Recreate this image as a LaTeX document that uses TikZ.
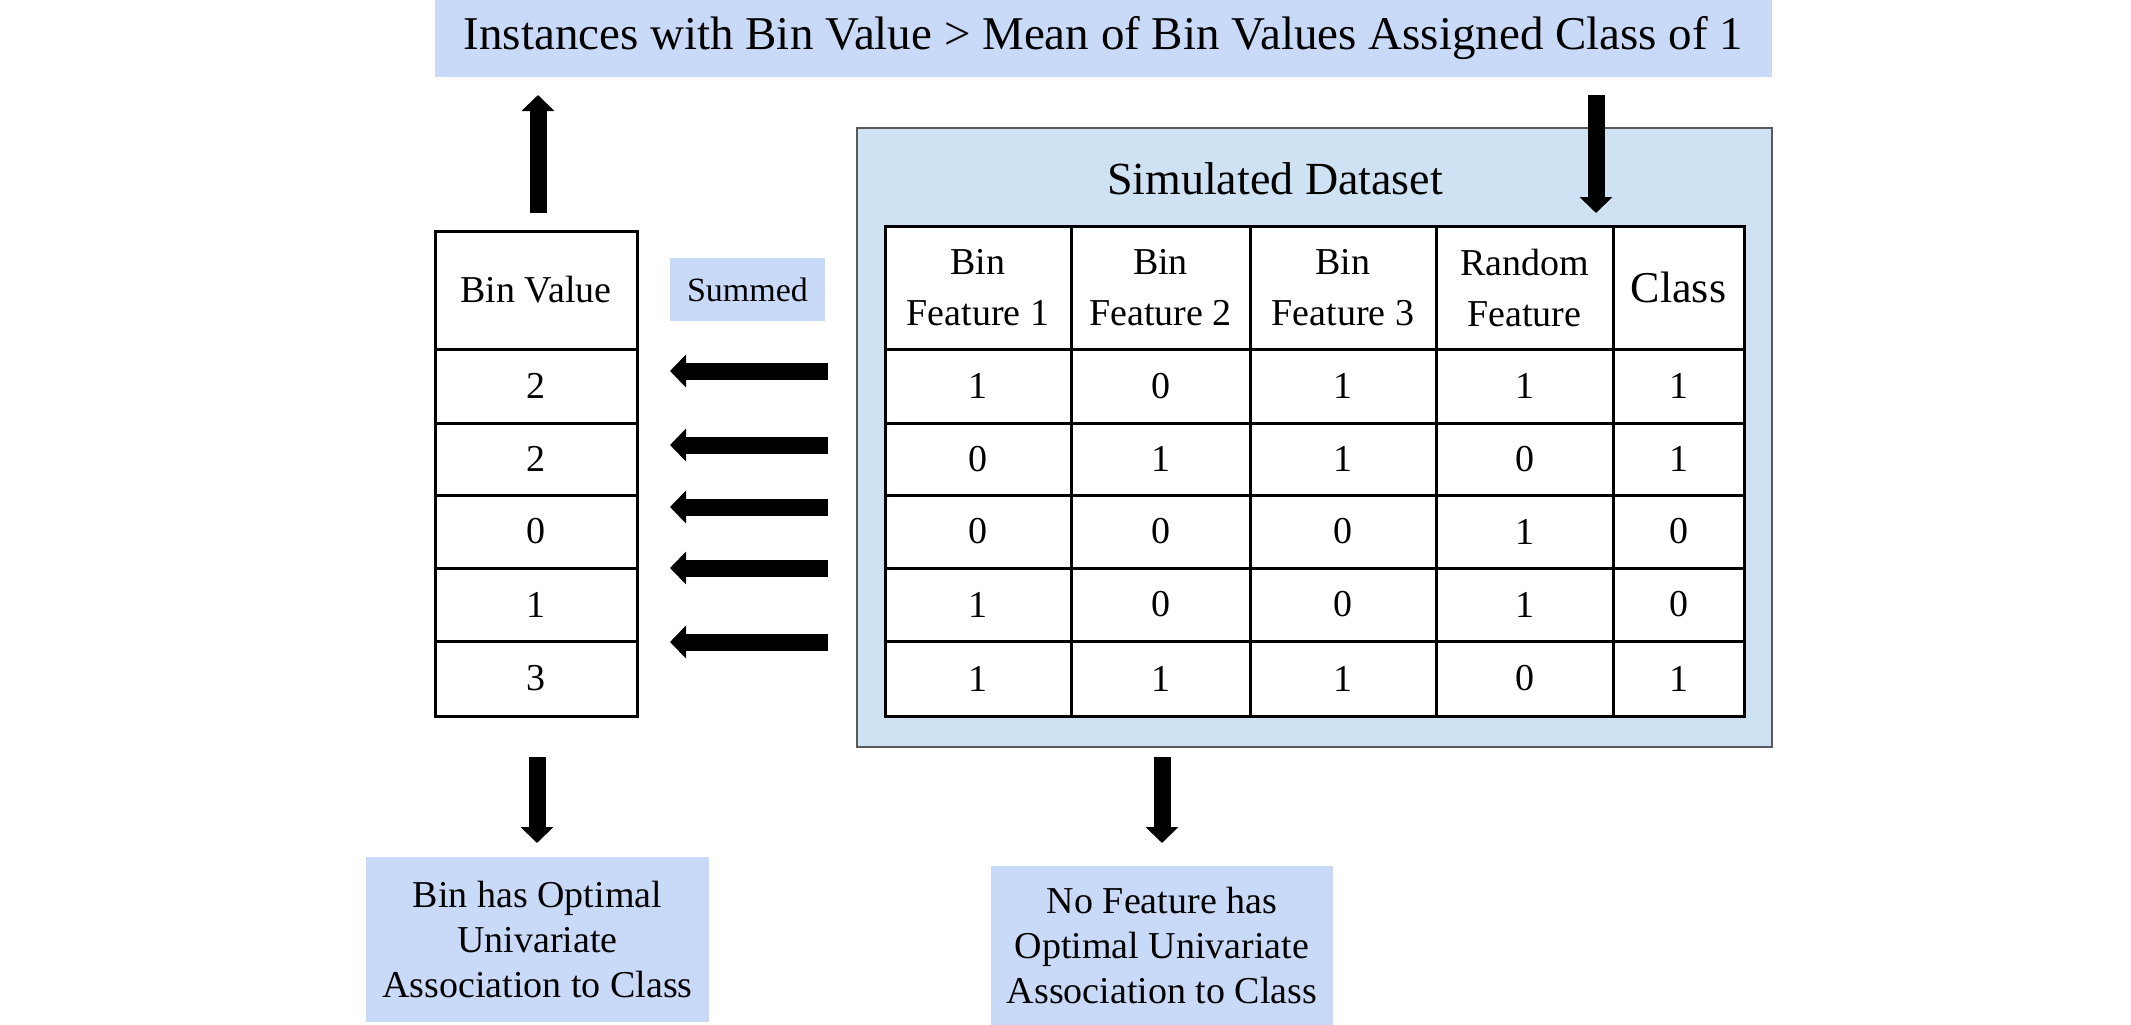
\documentclass[tikz,border=0pt]{standalone}
\usepackage{fontspec}
\setmainfont{Liberation Serif}
\usetikzlibrary{arrows.meta}
\definecolor{bannerblue}{HTML}{C9DAF8}
\definecolor{boxblue}{HTML}{CFE2F3}
\definecolor{boxedge}{HTML}{595959}
\tikzset{
  bluebox/.style={fill=bannerblue, draw=none, inner sep=0pt},
  cell/.style={draw=black, line width=3pt, inner sep=0pt, font=\fontsize{38}{51}\selectfont, align=center},
  bigarrow/.style={line width=17pt, -{Triangle[length=16pt,width=32pt]}},
}
\begin{document}
\begin{tikzpicture}[x=1pt,y=-1pt]
\useasboundingbox (0,0) rectangle (2131,1025);
% top banner
\node[bluebox, minimum width=1337pt, minimum height=77pt, font=\fontsize{47}{56}\selectfont] (banner) at (1103.5,38.5) {Instances with Bin Value > Mean of Bin Values Assigned Class of 1};
% simulated dataset box
\node[fill=boxblue, draw=boxedge, line width=2pt, minimum width=915pt, minimum height=619pt, inner sep=0pt] (dsbox) at (1314.5,437.5) {};
\node[font=\fontsize{46}{55}\selectfont, inner sep=0pt] (dstitle) at (1275,179) {Simulated Dataset};
% dataset table
\foreach \xa/\xb/\c in {885/1071/1,1071/1250/2,1250/1436/3,1436/1613/4,1613/1744/5}{
  \foreach \ya/\yb/\r in {226/349/0,349/423/1,423/495/2,495/568/3,568/641/4,641/716/5}{
    \node[cell, fill=white, minimum width={(\xb-\xa)*1pt}, minimum height={(\yb-\ya)*1pt}] (d-\r-\c) at ({(\xa+\xb)/2},{(\ya+\yb)/2}) {};
  }
}
\node[cell, draw=none] (h1) at (d-0-1) {Bin\\Feature 1};
\node[cell, draw=none] (h2) at (d-0-2) {Bin\\Feature 2};
\node[cell, draw=none] (h3) at (d-0-3) {Bin\\Feature 3};
\node[cell, draw=none] (h4) at (d-0-4) {Random\\Feature};
\node[cell, draw=none, font=\fontsize{44}{52}\selectfont] (h5) at (d-0-5) {Class};
\foreach \r/\vals in {1/{1,0,1,1,1},2/{0,1,1,0,1},3/{0,0,0,1,0},4/{1,0,0,1,0},5/{1,1,1,0,1}}{
  \foreach \v [count=\c] in \vals {
    \node[cell, draw=none] (t-\r-\c) at (d-\r-\c) {\v};
  }
}
% bin value table
\foreach \ya/\yb/\r/\v in {231/349/0/{Bin Value},349/423/1/2,423/495/2/2,495/568/3/0,568/641/4/1,641/716/5/3}{
  \node[cell, fill=white, minimum width=202pt, minimum height={(\yb-\ya)*1pt}] (b-\r) at (536,{(\ya+\yb)/2}) {\v};
}
% summed label
\node[bluebox, minimum width=155pt, minimum height=63pt, font=\fontsize{34}{40}\selectfont] (summed) at (747.5,289.5) {Summed};
% bottom boxes
\node[bluebox, minimum width=343pt, minimum height=165pt, align=center, font=\fontsize{38}{45}\selectfont] (res1) at (537.5,939.5) {Bin has Optimal\\Univariate\\Association to Class};
\node[bluebox, minimum width=342pt, minimum height=159pt, align=center, font=\fontsize{38}{45}\selectfont] (res2) at (1162,945.5) {No Feature has\\Optimal Univariate\\Association to Class};
% arrow end points
\coordinate (upS) at (538,213);
\coordinate (upE) at (538,95);
\coordinate (dnS) at (1596,95);
\coordinate (dnE) at (1596,213);
\coordinate (lbS) at (537,757);
\coordinate (lbE) at (537,843);
\coordinate (mbS) at (1162,757);
\coordinate (mbE) at (1162,843);
\foreach \y [count=\i] in {371,445,507,568,642}{
  \coordinate (sS\i) at (828,\y);
  \coordinate (sE\i) at (670,\y);
}
\draw[bigarrow] (upS) -- (upE);
\draw[bigarrow] (dnS) -- (dnE);
\draw[bigarrow] (lbS) -- (lbE);
\draw[bigarrow] (mbS) -- (mbE);
\foreach \i in {1,...,5}{
  \draw[bigarrow] (sS\i) -- (sE\i);
}
\end{tikzpicture}
\end{document}
